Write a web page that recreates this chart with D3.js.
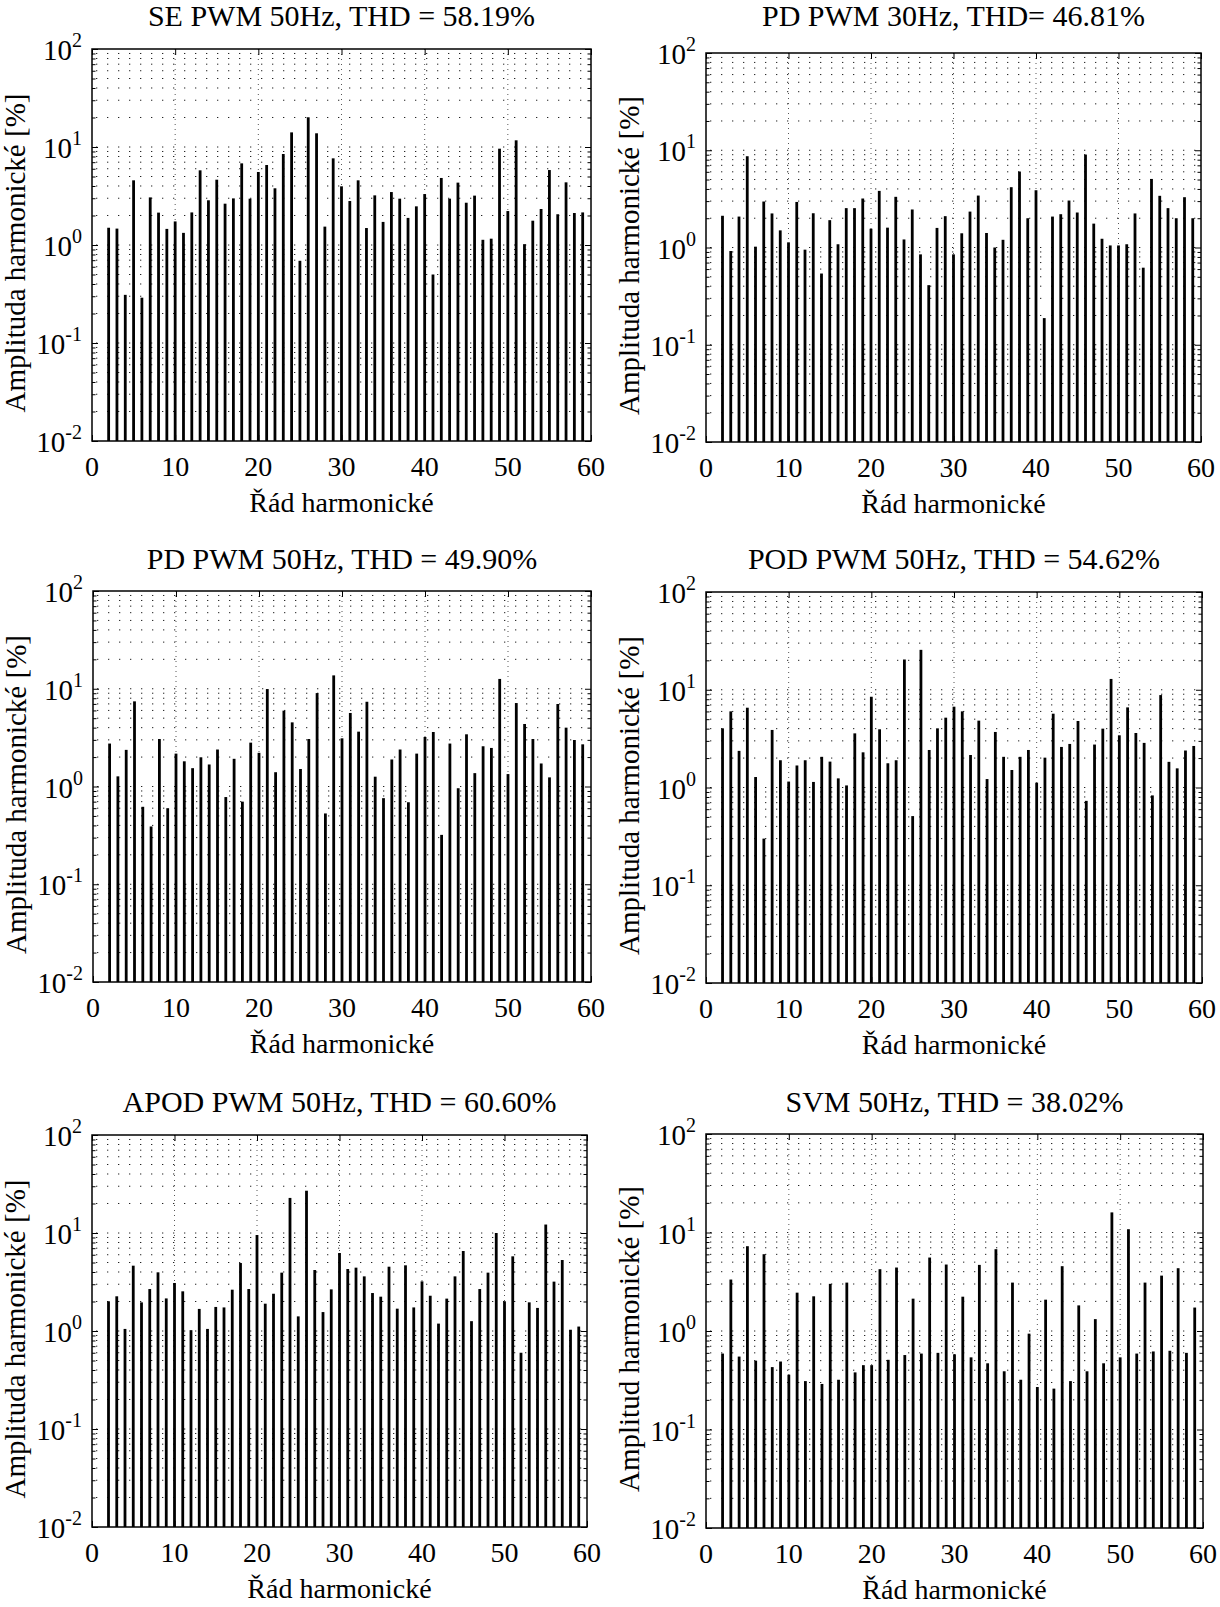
<!DOCTYPE html>
<html>
<head>
<meta charset="utf-8">
<script src="https://cdn.jsdelivr.net/npm/d3@7"></script>
<style>
  body { margin: 0; background: #fff; }
  svg { display: block; }
  text { font-family: "Liberation Serif", "Times New Roman", serif; fill: #000; }
</style>
</head>
<body>
<svg id="chart" width="1220" height="1607"></svg>
<script>
// ---------------- DATA ----------------
const harmonicOrders = [2,3,4,5,6,7,8,9,10,11,12,13,14,15,16,17,18,19,20,21,22,23,24,25,26,27,28,29,30,
  31,32,33,34,35,36,37,38,39,40,41,42,43,44,45,46,47,48,49,50,51,52,53,54,55,56,57,58,59];

const sePwm50 = [1.50,1.47,0.31,4.57,0.29,3.06,2.14,1.46,1.74,1.33,
  2.15,5.78,2.86,4.64,2.64,2.99,6.81,2.97,5.56,6.55,
  3.79,8.48,14.1,0.69,20.1,13.8,1.54,7.66,3.97,2.81,
  4.57,1.49,3.21,1.72,3.47,2.97,1.89,2.48,3.31,0.50,
  4.83,2.97,4.33,2.70,3.19,1.13,1.16,9.61,2.22,11.7,
  1.02,1.77,2.33,5.82,2.06,4.36,2.12,2.15];

const pdPwm30 = [2.12,0.92,2.08,8.68,1.02,2.97,2.24,1.50,1.13,2.94,
  0.95,2.25,0.54,1.91,1.08,2.54,2.54,3.19,1.56,3.82,
  1.60,3.32,1.21,2.46,0.85,0.41,1.59,2.10,0.85,1.40,
  2.34,3.42,1.41,1.00,1.20,4.17,6.04,2.00,3.88,0.188,
  2.08,2.20,3.04,2.29,9.03,1.76,1.23,1.05,1.05,1.08,
  2.24,0.62,5.07,3.40,2.54,2.00,3.29,2.00];

const pdPwm50 = [2.75,1.27,2.37,7.43,0.62,0.39,3.06,0.60,2.17,1.81,
  1.54,1.99,1.68,2.39,0.78,1.92,0.70,2.81,2.21,9.93,
  1.40,5.97,4.53,1.51,3.06,9.03,0.53,13.7,3.11,5.65,
  3.64,7.36,1.26,0.76,1.89,2.39,0.69,2.17,3.21,3.61,
  0.32,2.75,0.96,3.42,1.37,2.58,2.48,12.6,1.34,7.14,
  4.36,3.06,1.72,1.24,6.98,4.00,2.99,2.70];

const podPwm50 = [4.03,6.01,2.37,6.55,1.28,0.30,3.88,1.90,1.15,1.68,
  1.90,1.14,2.06,1.84,1.24,1.05,3.58,2.29,8.48,3.94,
  1.77,1.90,20.4,0.51,25.6,2.42,4.03,5.18,6.71,6.01,
  2.15,4.83,1.22,3.70,2.06,1.51,2.06,2.42,1.12,2.02,
  5.69,2.60,2.79,4.79,0.73,2.75,4.00,12.9,3.42,6.60,
  3.61,2.86,0.83,8.82,1.83,1.57,2.39,2.66];

const apodPwm50 = [2.01,2.26,1.05,4.64,1.96,2.68,3.97,2.15,3.09,2.54,
  1.02,1.68,1.05,1.76,1.74,2.64,4.94,2.68,9.54,1.90,
  2.40,3.94,22.8,1.41,27.0,4.19,1.56,2.66,6.25,4.29,
  4.43,3.61,2.44,2.24,4.53,1.69,4.68,1.74,3.21,2.29,
  1.19,2.14,3.61,6.55,1.26,2.68,3.94,10.0,2.01,5.78,
  0.60,1.96,1.72,12.2,3.19,5.30,1.03,1.11];

const svm50 = [0.59,3.33,0.55,7.26,0.50,6.02,0.43,0.49,0.36,2.45,
  0.31,2.25,0.29,3.01,0.32,3.10,0.38,0.45,0.45,4.24,
  0.51,4.41,0.57,2.13,0.59,5.57,0.60,4.73,0.58,2.23,
  0.54,4.69,0.47,6.77,0.39,3.10,0.32,0.94,0.27,2.08,
  0.26,4.55,0.31,1.82,0.39,1.32,0.47,16.0,0.54,10.8,
  0.59,3.10,0.62,3.65,0.63,4.34,0.60,1.73];

const chartTitles = [
  "SE PWM 50Hz, THD = 58.19%",
  "PD PWM 30Hz, THD= 46.81%",
  "PD PWM 50Hz, THD = 49.90%",
  "POD PWM 50Hz, THD = 54.62%",
  "APOD PWM 50Hz, THD = 60.60%",
  "SVM 50Hz, THD = 38.02%"
];
const yAxisLabels = [
  "Amplituda harmonické [%]",
  "Amplituda harmonické [%]",
  "Amplituda harmonické [%]",
  "Amplituda harmonické [%]",
  "Amplituda harmonické [%]",
  "Amplitud harmonické [%]"
];
const xAxisLabel = "Řád harmonické";
const xTickValues = [0, 10, 20, 30, 40, 50, 60];
const yTickExponents = [-2, -1, 0, 1, 2];
const yMinorMultipliers = [2, 3, 4, 5, 6, 7, 8, 9];

const seriesList = [sePwm50, pdPwm30, pdPwm50, podPwm50, apodPwm50, svm50];

// ---------------- LAYOUT ----------------
const panels = [
  { left: 92,  right: 591,  top: 49,   bottom: 441 },
  { left: 706, right: 1201, top: 53,   bottom: 442 },
  { left: 93,  right: 591,  top: 591,  bottom: 982 },
  { left: 706, right: 1202, top: 592,  bottom: 983 },
  { left: 92,  right: 587,  top: 1135, bottom: 1527 },
  { left: 706, right: 1203, top: 1134, bottom: 1528 }
];
const titleBaselines = [26, 26, 569, 569, 1112, 1112];

const svg = d3.select("#chart");
svg.append("rect").attr("width", 1220).attr("height", 1607).attr("fill", "#fff");

panels.forEach((p, i) => {
  const values = seriesList[i];
  const g = svg.append("g");
  const x = d3.scaleLinear().domain([0, 60]).range([p.left, p.right]);
  const y = d3.scaleLog().domain([0.01, 100]).range([p.bottom, p.top]);

  const decades = yTickExponents.map(e => Math.pow(10, e));
  const minors = [];
  yTickExponents.slice(0, -1).forEach(e => yMinorMultipliers.forEach(k => minors.push(k * Math.pow(10, e))));
  const gridY = decades.slice(1, -1).concat(minors);

  // horizontal dotted grid
  g.append("g").selectAll("line").data(gridY).join("line")
    .attr("x1", p.left).attr("x2", p.right)
    .attr("y1", d => y(d)).attr("y2", d => y(d))
    .attr("stroke", "#222").attr("stroke-width", 1)
    .attr("stroke-dasharray", "1.3,9.7").attr("stroke-dashoffset", -4);

  // vertical dotted grid
  g.append("g").selectAll("line").data(xTickValues.slice(1, -1)).join("line")
    .attr("x1", d => x(d)).attr("x2", d => x(d))
    .attr("y1", p.top).attr("y2", p.bottom)
    .attr("stroke", "#555").attr("stroke-width", 1)
    .attr("stroke-dasharray", "1,4");

  // bars
  g.append("g").selectAll("rect").data(harmonicOrders).join("rect")
    .attr("x", (d) => x(d) - 1.4)
    .attr("width", 2.8)
    .attr("y", (d, j) => y(values[j]))
    .attr("height", (d, j) => y(0.01) - y(values[j]))
    .attr("fill", "#000");

  // ticks via axes (inward)
  const clean = sel => { sel.select(".domain").remove(); sel.selectAll("line").attr("stroke", "#000"); sel.selectAll("text").remove(); };
  g.append("g").attr("transform", `translate(0,${p.bottom})`)
    .call(d3.axisBottom(x).tickValues(xTickValues).tickSize(-6).tickFormat("")).call(clean);
  g.append("g").attr("transform", `translate(0,${p.top})`)
    .call(d3.axisTop(x).tickValues(xTickValues).tickSize(-6).tickFormat("")).call(clean);
  g.append("g").attr("transform", `translate(${p.left},0)`)
    .call(d3.axisLeft(y).tickValues(decades).tickSize(-6).tickFormat("")).call(clean);
  g.append("g").attr("transform", `translate(${p.left},0)`)
    .call(d3.axisLeft(y).tickValues(minors).tickSize(-3.5).tickFormat("")).call(clean);
  g.append("g").attr("transform", `translate(${p.right},0)`)
    .call(d3.axisRight(y).tickValues(decades).tickSize(-6).tickFormat("")).call(clean);
  g.append("g").attr("transform", `translate(${p.right},0)`)
    .call(d3.axisRight(y).tickValues(minors).tickSize(-3.5).tickFormat("")).call(clean);

  // frame
  g.append("rect").attr("x", p.left).attr("y", p.top)
    .attr("width", p.right - p.left).attr("height", p.bottom - p.top)
    .attr("fill", "none").attr("stroke", "#000").attr("stroke-width", 1.5);

  // x tick labels
  g.append("g").selectAll("text").data(xTickValues).join("text")
    .attr("x", d => x(d)).attr("y", p.bottom + 35)
    .attr("text-anchor", "middle").attr("font-size", 28)
    .text(d => d);

  // y tick labels 10^e
  const yl = g.append("g").selectAll("text").data(yTickExponents).join("text")
    .attr("x", p.left - 10).attr("y", d => y(Math.pow(10, d)) + 11)
    .attr("text-anchor", "end").attr("font-size", 29);
  yl.append("tspan").text("10");
  yl.append("tspan").attr("font-size", 20).attr("dy", -13).text(d => d);

  // x axis label
  g.append("text").attr("x", (p.left + p.right) / 2).attr("y", p.bottom + 71)
    .attr("text-anchor", "middle").attr("font-size", 28).text(xAxisLabel);

  // y axis label
  const cy = (p.top + p.bottom) / 2 + 8;
  g.append("text").attr("transform", `translate(${p.left - 67},${cy}) rotate(-90)`)
    .attr("text-anchor", "middle").attr("font-size", 29).text(yAxisLabels[i]);

  // title
  g.append("text").attr("x", (p.left + p.right) / 2).attr("y", titleBaselines[i])
    .attr("text-anchor", "middle").attr("font-size", 30).text(chartTitles[i]);
});
</script>
</body>
</html>
